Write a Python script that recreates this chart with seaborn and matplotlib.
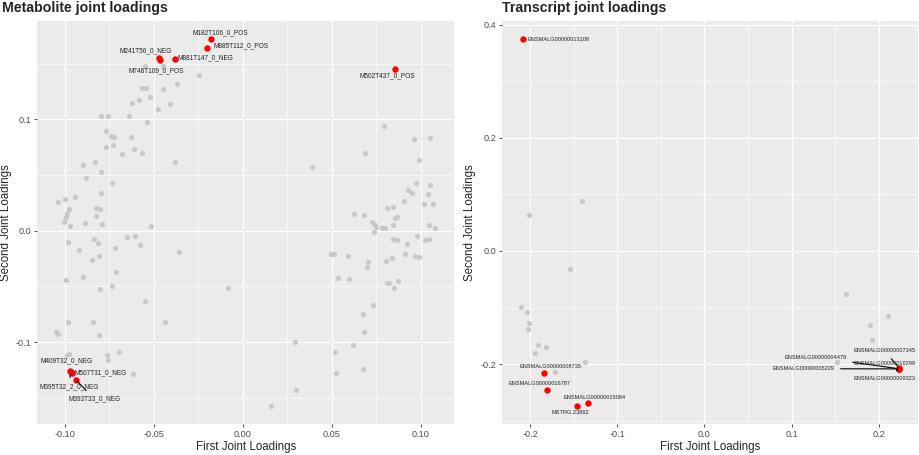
import matplotlib
matplotlib.use("Agg")
import matplotlib.pyplot as plt
from matplotlib.ticker import MultipleLocator
import seaborn as sns
import pandas as pd

# ---- metabolite loadings (grey = not selected) ----
met_grey_x = [-0.055, -0.0448, -0.0246, -0.0373, -0.0569, -0.0547, -0.0448, -0.0522, -0.0584, -0.0622,
              -0.0408, -0.0478, -0.080, -0.0757, -0.0642, -0.0537, -0.077, -0.0743, -0.0726, -0.0631,
              -0.0768, -0.0728, -0.061, -0.0678, -0.0567, -0.0833, -0.0897, -0.0384, -0.080, -0.0882,
              -0.0734, -0.080, -0.0944, -0.100, -0.1038, -0.0978, -0.0828, -0.0803,
              -0.0987, -0.0996, -0.1004, -0.0972, -0.0828, -0.0886, -0.0792, -0.0519, -0.098, -0.0839,
              -0.0813, -0.0923, -0.0719, -0.0654, -0.0605, -0.0577, -0.036, -0.085, -0.081, -0.0713,
              -0.0994, -0.0897, -0.0802, -0.0734, -0.0084, -0.0549, -0.098, -0.0844, -0.0436, -0.105,
              -0.1038, -0.081, -0.099, -0.0976, -0.0764, -0.0695, -0.0758, -0.0618,
              0.0792, 0.0961, 0.1049, 0.0684, 0.0388, 0.0987, 0.0972, 0.1052, 0.0929, 0.0951,
              0.1038, 0.0903, 0.1015, 0.1069, 0.0811, 0.0841, 0.0624, 0.068, 0.0856, 0.0867,
              0.0726, 0.074, 0.0747, 0.0781, 0.0799, 0.0841, 0.0736, 0.1047, 0.108, 0.0976,
              0.0841, 0.0865, 0.092, 0.1022, 0.1047,
              0.0493, 0.051, 0.0588, 0.0704, 0.0697, 0.0805, 0.0839, 0.0908, 0.0966, 0.0987,
              0.0536, 0.0597, 0.0811, 0.082, 0.0869, 0.085, 0.0732, 0.0674, 0.068, 0.0294,
              0.062, 0.0515, 0.0521, 0.0674, 0.0298, 0.0157]
met_grey_y = [0.148, 0.148, 0.140, 0.132, 0.128, 0.128, 0.127, 0.120, 0.1175, 0.115,
              0.1137, 0.109, 0.103, 0.103, 0.103, 0.0976, 0.0895, 0.0853, 0.0842, 0.0845,
              0.0749, 0.077, 0.0734, 0.0689, 0.0695, 0.062, 0.0594, 0.062, 0.0528, 0.0477,
              0.0433, 0.0343, 0.0302, 0.0284, 0.0257, 0.0197, 0.0209, 0.0194,
              0.0164, 0.0123, 0.0078, 0.0039, 0.0137, 0.0069, 0.006, 0.0039, -0.0105, -0.0072,
              -0.0114, -0.0173, -0.0155, -0.006, -0.0051, -0.0128, -0.0194, -0.0266, -0.023, -0.0373,
              -0.0439, -0.0418, -0.0522, -0.0499, -0.0516, -0.063, -0.0815, -0.0815, -0.0821, -0.0907,
              -0.0928, -0.094, -0.1119, -0.1107, -0.1113, -0.109, -0.1161, -0.1289,
              0.094, 0.0824, 0.083, 0.0701, 0.0576, 0.0633, 0.043, 0.0415, 0.0364, 0.034,
              0.0334, 0.0266, 0.0242, 0.0245, 0.0209, 0.0218, 0.0155, 0.014, 0.0116, 0.0128,
              0.0078, 0.0054, 0.0036, 0.0024, 0.0021, 0.0056, -0.0009, 0.0051, 0.0021, -0.0047,
              -0.0072, -0.0087, -0.0123, -0.0087, -0.0074,
              -0.0206, -0.0206, -0.0224, -0.028, -0.0329, -0.0275, -0.0244, -0.0209, -0.0224, -0.0239,
              -0.0424, -0.0432, -0.0468, -0.0468, -0.0448, -0.051, -0.0669, -0.0743, -0.0913, -0.1003,
              -0.103, -0.1086, -0.1274, -0.1241, -0.143, -0.1573]

# ---- selected metabolites (red) ----
met_hit_names = ["M182T106_0_POS", "M885T112_0_POS", "M241T56_0_NEG", "M748T109_0_POS",
                 "M881T147_0_NEG", "M502T437_0_POS", "M409T32_0_NEG", "M507T31_0_NEG",
                 "M395T32_2_0_NEG", "M393T33_0_NEG"]
met_hit_x = [-0.018, -0.0201, -0.047, -0.0465, -0.0384, 0.0854, -0.0972, -0.0962, -0.0968, -0.0938]
met_hit_y = [0.1719, 0.164, 0.155, 0.153, 0.154, 0.1456, -0.126, -0.1274, -0.1266, -0.134]

# ---- transcript loadings ----
tx_grey_x = [-0.1404, -0.2011, -0.1538, -0.2108, -0.2039, -0.2016, -0.2019, -0.1908, -0.1817, -0.1939,
             -0.1366, -0.171, 0.1623, 0.2101, 0.1898, 0.1917, 0.1517]
tx_grey_y = [0.0882, 0.0635, -0.0312, -0.0983, -0.1082, -0.1276, -0.1382, -0.1664, -0.1706, -0.1805,
             -0.1959, -0.2148, -0.0759, -0.1147, -0.1305, -0.1583, -0.1971]

tx_hit_names = ["ENSMALG00000013108", "ENSMALG00000008735", "ENSMALG00000016787",
                "ENSMALG00000015084", "MSTRG.23862", "ENSMALG00000007345", "ENSMALG00000004479",
                "ENSMALG00000010299", "ENSMALG00000005229", "ENSMALG00000009323"]
tx_hit_x = [-0.2085, -0.1844, -0.1805, -0.1332, -0.1466, 0.2236, 0.2232, 0.2234, 0.2230, 0.2236]
tx_hit_y = [0.374, -0.2165, -0.2465, -0.2688, -0.274, -0.2075, -0.2083, -0.2080, -0.2085, -0.2088]

# label placement (data coords, ha, draw segment)
met_labels = {
    "M182T106_0_POS": (-0.0129, 0.1779, "center", False),
    "M885T112_0_POS": (-0.0012, 0.1665, "center", False),
    "M241T56_0_NEG": (-0.0546, 0.1614, "center", False),
    "M748T109_0_POS": (-0.0487, 0.1441, "center", False),
    "M881T147_0_NEG": (-0.0213, 0.1551, "center", False),
    "M502T437_0_POS": (0.0812, 0.1390, "center", False),
    "M409T32_0_NEG": (-0.0989, -0.1170, "center", False),
    "M507T31_0_NEG": (-0.0799, -0.1274, "center", False),
    "M395T32_2_0_NEG": (-0.0976, -0.1403, "center", True),
    "M393T33_0_NEG": (-0.0833, -0.1513, "center", True),
}
tx_labels = {
    "ENSMALG00000013108": (-0.2031, 0.3741, "left", False),
    "ENSMALG00000008735": (-0.1767, -0.2042, "center", False),
    "ENSMALG00000016787": (-0.1893, -0.2335, "center", False),
    "ENSMALG00000015084": (-0.1263, -0.2582, "center", False),
    "MSTRG.23862": (-0.1541, -0.2864, "center", False),
    "ENSMALG00000007345": (0.2064, -0.1765, "center", True),
    "ENSMALG00000004479": (0.1274, -0.1876, "center", True),
    "ENSMALG00000010299": (0.2064, -0.1994, "center", False),
    "ENSMALG00000005229": (0.1136, -0.2082, "center", True),
    "ENSMALG00000009323": (0.2064, -0.2246, "center", True),
}

sns.set_style("darkgrid", {"axes.facecolor": "#EBEBEB", "grid.color": "white"})
plt.rcParams["font.family"] = ["Liberation Sans", "DejaVu Sans"]


def loadings_panel(ax, gx, gy, hx, hy, names, labels, xlim, ylim, xticks, yticks,
                   xfmt, yfmt, minor_x, minor_y, label_size):
    df = pd.DataFrame({
        "x": list(gx) + list(hx),
        "y": list(gy) + list(hy),
        "group": ["other"] * len(gx) + ["selected"] * len(hx),
    })
    sns.scatterplot(data=df[df.group == "other"], x="x", y="y", color="#C8C8C8",
                    s=14, linewidth=0, ax=ax, legend=False, zorder=2)
    sns.scatterplot(data=df[df.group == "selected"], x="x", y="y", color="red",
                    s=21, linewidth=0, ax=ax, legend=False, zorder=3)
    for name, px, py in zip(names, hx, hy):
        tx, ty, ha, seg = labels[name]
        if seg:
            ax.annotate(name, xy=(px, py), xytext=(tx, ty), fontsize=label_size,
                        ha=ha, va="center", color="#222222", zorder=4,
                        arrowprops=dict(arrowstyle="-", color="black", lw=0.8,
                                        shrinkA=2, shrinkB=1))
        else:
            ax.text(tx, ty, name, fontsize=label_size, ha=ha, va="center",
                    color="#222222", zorder=4)
    ax.set_xlim(*xlim)
    ax.set_ylim(*ylim)
    ax.set_xticks(xticks)
    ax.set_xticklabels([xfmt.format(v) for v in xticks])
    ax.set_yticks(yticks)
    ax.set_yticklabels([yfmt.format(v) for v in yticks])
    ax.xaxis.set_minor_locator(MultipleLocator(minor_x))
    ax.yaxis.set_minor_locator(MultipleLocator(minor_y))
    ax.grid(which="major", color="white", lw=0.9)
    ax.grid(which="minor", color="white", lw=0.45)
    ax.tick_params(which="major", length=2.3, width=0.6, color="#333333",
                   labelsize=6.6, labelcolor="#4D4D4D", pad=1.5, bottom=True, left=True)
    ax.tick_params(which="minor", length=0)
    for sp in ax.spines.values():
        sp.set_visible(False)
    ax.set_xlabel("First Joint Loadings", fontsize=8.3, labelpad=1.5)
    ax.set_ylabel("Second Joint Loadings", fontsize=8.3, labelpad=3)


fig = plt.figure(figsize=(9.2, 4.55), dpi=100)
ax1 = fig.add_axes([0.0402, 0.0675, 0.4536, 0.8863])
ax2 = fig.add_axes([0.5453, 0.0675, 0.4528, 0.8863])

loadings_panel(ax1, met_grey_x, met_grey_y, met_hit_x, met_hit_y, met_hit_names, met_labels,
               (-0.1157, 0.1187), (-0.1738, 0.1884),
               [-0.10, -0.05, 0.00, 0.05, 0.10], [-0.1, 0.0, 0.1],
               "{:.2f}", "{:.1f}", 0.025, 0.05, 4.7)
loadings_panel(ax2, tx_grey_x, tx_grey_y, tx_hit_x, tx_hit_y, tx_hit_names, tx_labels,
               (-0.2325, 0.2451), (-0.3064, 0.4064),
               [-0.2, -0.1, 0.0, 0.1, 0.2], [-0.2, 0.0, 0.2, 0.4],
               "{:.1f}", "{:.1f}", 0.05, 0.1, 4.1)

fig.text(2 / 920, 1 - 1 / 455, "Metabolite joint loadings", fontsize=10.2,
         fontweight="bold", ha="left", va="top")
fig.text(502 / 920, 1 - 1 / 455, "Transcript joint loadings", fontsize=10.2,
         fontweight="bold", ha="left", va="top")

fig.savefig("out.png", dpi=100)
